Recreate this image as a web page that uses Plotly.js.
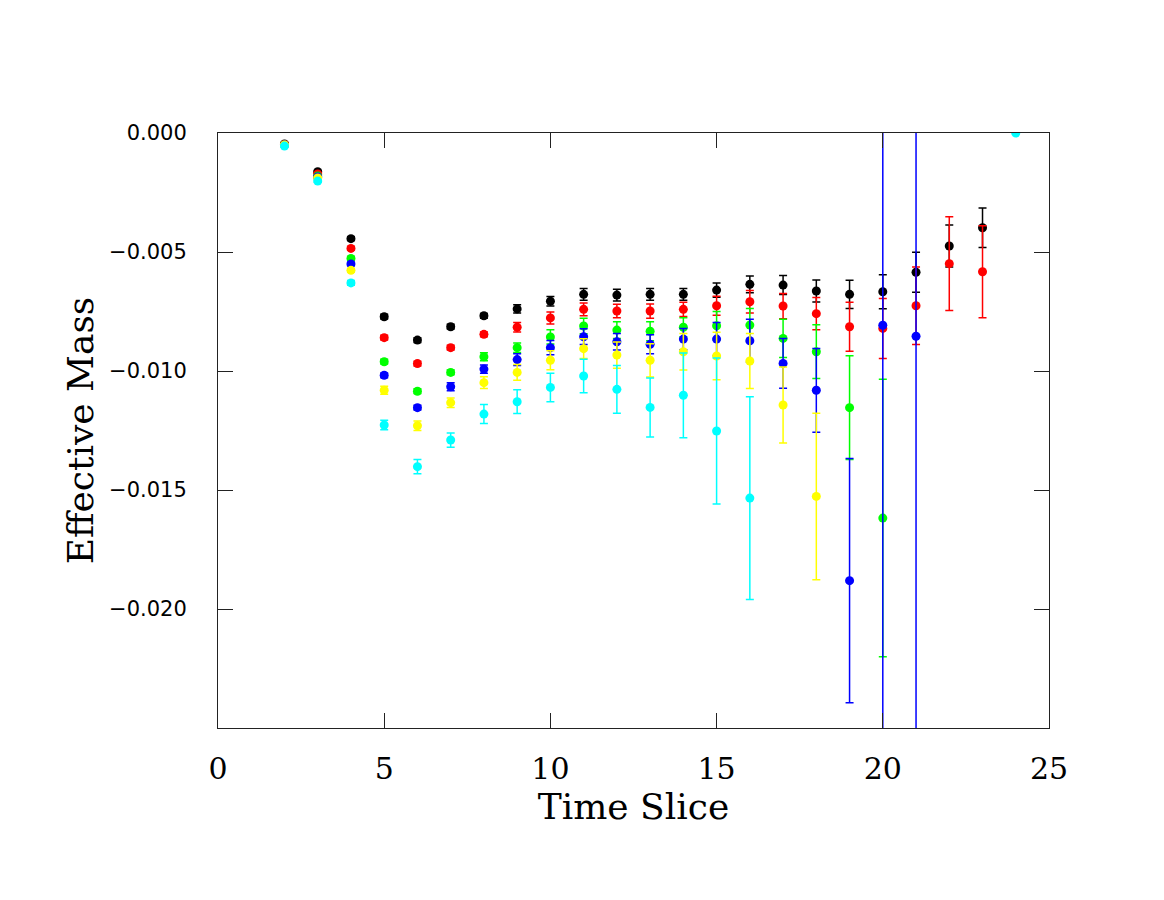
<!DOCTYPE html>
<html>
<head>
<meta charset="utf-8">
<script src="https://cdn.plot.ly/plotly-3.0.1.min.js"></script>
<style>
  body { margin: 0; background: #fff; }
  #chart { width: 1164px; height: 900px; }
</style>
</head>
<body>
<div id="chart"></div>
<script>
//// Values
// Time slices
var tBlack  = [2, 3, 4, 5, 6, 7, 8, 9, 10, 11, 12, 13, 14, 15, 16, 17, 18, 19, 20, 21, 22, 23];
var tRed    = [2, 3, 4, 5, 6, 7, 8, 9, 10, 11, 12, 13, 14, 15, 16, 17, 18, 19, 20, 21, 22, 23];
var tGreen  = [2, 3, 4, 5, 6, 7, 8, 9, 10, 11, 12, 13, 14, 15, 16, 17, 18, 19, 20];
var tBlue   = [2, 3, 4, 5, 6, 7, 8, 9, 10, 11, 12, 13, 14, 15, 16, 17, 18, 19, 20, 21];
var tYellow = [2, 3, 4, 5, 6, 7, 8, 9, 10, 11, 12, 13, 14, 15, 16, 17, 18];
var tCyan   = [2, 3, 4, 5, 6, 7, 8, 9, 10, 11, 12, 13, 14, 15, 16, 24];

// Effective mass
var mBlack = [-0.00046, -0.00163, -0.00444, -0.00772, -0.00870, -0.00814, -0.00768, -0.00739, -0.00707, -0.00678, -0.00681,
              -0.00678, -0.00678, -0.00660, -0.00636, -0.00639, -0.00664, -0.00678, -0.00667, -0.00585, -0.00475, -0.00398];
var mRed = [-0.00048, -0.00172, -0.00485, -0.00860, -0.00969, -0.00902, -0.00846, -0.00816, -0.00777, -0.00741, -0.00748,
            -0.00748, -0.00741, -0.00726, -0.00709, -0.00727, -0.00759, -0.00814, -0.00821, -0.00726, -0.00549, -0.00583];
var mGreen = [-0.00050, -0.00181, -0.00527, -0.00961, -0.01085, -0.01006, -0.00940, -0.00902, -0.00857, -0.00811, -0.00828,
              -0.00833, -0.00816, -0.00810, -0.00807, -0.00863, -0.00919, -0.01154, -0.01618];
var mBlue = [-0.00050, -0.00185, -0.00550, -0.01018, -0.01154, -0.01066, -0.00992, -0.00952, -0.00902, -0.00856, -0.00877,
             -0.00888, -0.00866, -0.00866, -0.00873, -0.00968, -0.01081, -0.01881, -0.00808, -0.00854];
var mYellow = [-0.00050, -0.00189, -0.00577, -0.01081, -0.01230, -0.01133, -0.01049, -0.01006, -0.00955, -0.00906, -0.00933,
               -0.00955, -0.00919, -0.00937, -0.00958, -0.01143, -0.01527];
var mCyan = [-0.00055, -0.00202, -0.00630, -0.01227, -0.01402, -0.01290, -0.01181, -0.01129, -0.01069, -0.01021, -0.01077,
             -0.01153, -0.01102, -0.01252, -0.01534, 0.0];

// Errors
var eBlack = [0.00005, 0.00005, 0.00008, 0.0001, 0.0001, 0.0001, 0.0001, 0.00017, 0.0002, 0.00025, 0.00025,
              0.00025, 0.00025, 0.0003, 0.00035, 0.0004, 0.00046, 0.00059, 0.00071, 0.00084, 0.00088, 0.00083];
var eRed = [0.00005, 0.00005, 0.00008, 0.0001, 0.0001, 0.0001, 0.0001, 0.0002, 0.00025, 0.00027, 0.00028,
            0.0003, 0.0003, 0.0004, 0.00047, 0.00053, 0.00068, 0.00103, 0.00126, 0.00163, 0.00197, 0.00193];
var eGreen = [0.00005, 0.00005, 0.00008, 0.0001, 0.0001, 0.0001, 0.00017, 0.0002, 0.0003, 0.00033, 0.00035,
              0.0004, 0.0004, 0.0006, 0.0007, 0.0008, 0.00113, 0.00218, 0.00583];
var eBlue = [0.00005, 0.00005, 0.00008, 0.0001, 0.0001, 0.00017, 0.00017, 0.00025, 0.0003, 0.00033, 0.00035,
             0.0004, 0.00045, 0.0007, 0.0009, 0.00105, 0.00176, 0.00513, 0.03, 0.03];
var eYellow = [0.00005, 0.00005, 0.00008, 0.00017, 0.0002, 0.0002, 0.00025, 0.00033, 0.0004, 0.00042, 0.00055,
               0.0007, 0.00077, 0.001, 0.00116, 0.0016, 0.0035];
var eCyan = [0.00005, 0.00005, 0.0001, 0.0002, 0.0003, 0.0003, 0.0004, 0.0005, 0.0006, 0.0007, 0.001,
             0.00124, 0.00178, 0.00307, 0.00426, 0.0];

// Axis ticks
var xTicks = [0, 5, 10, 15, 20, 25];
var yTicks = [0, -0.005, -0.010, -0.015, -0.020];

// Building traces
function makeTrace(t, m, e, color) {
    return {
        x: t,
        y: m,
        type: 'scatter',
        mode: 'markers',
        marker: { color: color, size: 9 },
        error_y: { type: 'data', array: e, visible: true, color: color, thickness: 1.5, width: 4 },
        showlegend: false
    };
}

var data = [
    makeTrace(tBlack, mBlack, eBlack, '#000000'),
    makeTrace(tRed, mRed, eRed, '#ff0000'),
    makeTrace(tGreen, mGreen, eGreen, '#00ff00'),
    makeTrace(tBlue, mBlue, eBlue, '#0000ff'),
    makeTrace(tYellow, mYellow, eYellow, '#ffff00'),
    makeTrace(tCyan, mCyan, eCyan, '#00ffff')
];

var layout = {
    width: 1164,
    height: 900,
    margin: { l: 218, r: 115, t: 133, b: 172 },
    paper_bgcolor: '#ffffff',
    plot_bgcolor: '#ffffff',
    xaxis: {
        range: [0, 25],
        tickvals: xTicks,
        ticktext: xTicks.map(String),
        ticks: 'inside',
        ticklen: 15,
        tickwidth: 1,
        tickcolor: '#222',
        showline: true,
        mirror: 'ticks',
        linecolor: '#222',
        linewidth: 1,
        showgrid: false,
        zeroline: false,
        ticklabelstandoff: 14,
        tickfont: { family: 'DejaVu Serif', size: 30, color: '#000' },
        title: { text: 'Time Slice', font: { family: 'DejaVu Serif', size: 36, color: '#000' }, standoff: 0 }
    },
    yaxis: {
        range: [-0.025, 0],
        tickvals: yTicks,
        tickformat: '.3f',
        ticks: 'inside',
        ticklen: 15,
        tickwidth: 1,
        tickcolor: '#222',
        showline: true,
        mirror: 'ticks',
        linecolor: '#222',
        linewidth: 1,
        showgrid: false,
        zeroline: false,
        ticklabelstandoff: 26,
        tickfont: { family: 'DejaVu Sans', size: 21, color: '#000' },
        title: { text: 'Effective Mass', font: { family: 'DejaVu Serif', size: 36, color: '#000' }, standoff: 4 }
    }
};

Plotly.newPlot('chart', data, layout, { displayModeBar: false });
</script>
</body>
</html>
